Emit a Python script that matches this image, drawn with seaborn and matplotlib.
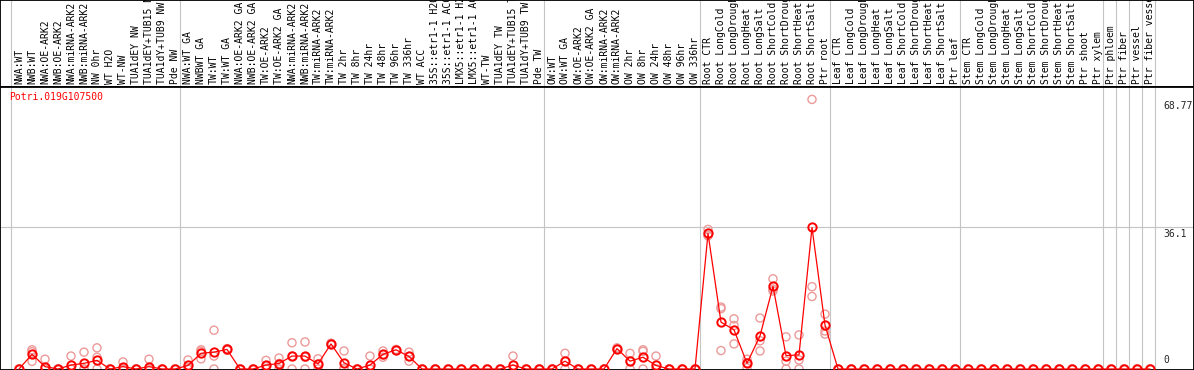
import numpy as np
import pandas as pd
import seaborn as sns
import matplotlib.pyplot as plt

gene = "Potri.019G107500"

samples = [
    # NW
    "NWA:WT", "NWB:WT", "NWA:OE-ARK2", "NWB:OE-ARK2", "NWA:miRNA-ARK2", "NWB:miRNA-ARK2",
    "NW 0hr", "WT H2O", "WT-NW", "TUA1dEY NW", "TUA1dEY+TUB15 NW", "TUA1dY+TUB9 NW", "Pde NW",
    # TW
    "NWA:WT GA", "NWBWT GA", "TW:WT", "TW:WT GA", "NWA:OE-ARK2 GA", "NWB:OE-ARK2 GA",
    "TW:OE-ARK2", "TW:OE-ARK2 GA", "NWA:miRNA-ARK2", "NWB:miRNA-ARK2", "TW:miRNA-ARK2",
    "TW:miRNA-ARK2", "TW 2hr", "TW 8hr", "TW 24hr", "TW 48hr", "TW 96hr", "TW 336hr", "WT ACC",
    "35S::etr1-1 H2O", "35S::etr1-1 ACC", "LMX5::etr1-1 H2O", "LMX5::etr1-1 ACC", "WT-TW",
    "TUA1dEY TW", "TUA1dEY+TUB15 TW", "TUA1dY+TUB9 TW", "Pde TW",
    # OW
    "OW:WT", "OW:WT GA", "OW:OE-ARK2", "OW:OE-ARK2 GA", "OW:miRNA-ARK2", "OW:miRNA-ARK2",
    "OW 2hr", "OW 8hr", "OW 24hr", "OW 48hr", "OW 96hr", "OW 336hr",
    # root
    "Root CTR", "Root LongCold", "Root LongDrought", "Root LongHeat", "Root LongSalt",
    "Root ShortCold", "Root ShortDrought", "Root ShortHeat", "Root ShortSalt", "Ptr root",
    # leaf
    "Leaf CTR", "Leaf LongCold", "Leaf LongDrought", "Leaf LongHeat", "Leaf LongSalt",
    "Leaf ShortCold", "Leaf ShortDrought", "Leaf ShortHeat", "Leaf ShortSalt", "Ptr leaf",
    # stem
    "Stem CTR", "Stem LongCold", "Stem LongDrought", "Stem LongHeat", "Stem LongSalt",
    "Stem ShortCold", "Stem ShortDrought", "Stem ShortHeat", "Stem ShortSalt", "Ptr shoot",
    "Ptr xylem",
    # wood cells
    "Ptr phloem", "Ptr fiber", "Ptr vessel", "Ptr fiber vessel",
]
group_sizes = [13, 28, 12, 10, 10, 11, 1, 1, 1, 1]

means = [
    0, 3.75, 0.6, 0, 1.0, 1.45, 2.2, 0, 0.6, 0, 0.6, 0, 0,
    0.9, 4.0, 4.3, 5.0, 0, 0, 1.0, 1.4, 3.3, 3.3, 1.3, 6.4, 1.6, 0,
    1.0, 3.75, 4.9, 3.2, 0, 0, 0, 0, 0, 0, 0, 1.0, 0, 0,
    0, 2.0, 0, 0, 0, 5.2, 2.0, 3.0, 0.9, 0, 0, 0,
    34.6, 11.95, 10.0, 1.45, 8.45, 21.1, 3.4, 3.6, 36.1, 11.2,
    0, 0, 0, 0, 0, 0, 0, 0, 0, 0,
    0, 0, 0, 0, 0, 0, 0, 0, 0, 0, 0,
    0, 0, 0, 0,
]

reps = [
    [0, 0, 0], [4.9, 4.4, 1.95], [2.5, 0, 0], [0, 0, 0], [3.3, 0, 0], [4.3, 0, 0],
    [5.4, 3.0, 0], [0, 0, 0], [1.8, 0, 0], [0, 0, 0], [2.5, 0, 0], [0, 0, 0], [0, 0, 0],
    [2.3, 0.4, 0], [4.9, 4.5, 2.6], [9.9, 3.3, 0], [5.2, 5.0, 4.8], [0, 0, 0], [0, 0, 0],
    [2.2, 0.8, 0], [2.8, 1.4, 0], [6.7, 3.3, 0], [6.9, 3.0, 0], [2.6, 1.3, 0],
    [6.6, 6.4, 6.2], [4.6, 0.2, 0], [0, 0, 0], [3.3, 0, 0], [4.6, 3.6, 3.0],
    [5.0, 4.9, 4.7], [4.3, 3.2, 2.0], [0, 0, 0], [0, 0, 0], [0, 0, 0], [0, 0, 0],
    [0, 0, 0], [0, 0, 0], [0, 0, 0], [3.3, 0, 0], [0, 0, 0], [0, 0, 0],
    [0, 0, 0], [4.0, 2.0, 0], [0, 0, 0], [0, 0, 0], [0, 0, 0], [5.4, 5.2, 5.0],
    [4.0, 2.0, 0], [4.9, 4.5, 0], [3.3, 0, 0], [0, 0, 0], [0, 0, 0], [0, 0, 0],
    [35.6, 34.0, 34.1], [15.8, 15.4, 4.7], [12.8, 11.1, 6.4], [2.5, 1.6, 0.3],
    [13.0, 7.2, 4.6], [23.0, 20.4, 19.9], [8.2, 2.0, 0], [8.7, 2.3, 0],
    [68.77, 21.0, 18.5], [14.0, 9.7, 8.9],
] + [[0, 0, 0]] * 25

y_marks = [68.77, 36.1, 0]

sns.set_style("white")
plt.rcParams["font.family"] = ["DejaVu Sans Mono", "DejaVu Sans"]

W, H = 1194, 370
head = 87        # height of the label strip, px
step = 13.0      # px between samples
x0 = 19.0        # px position of first sample
ppu = 3.92       # px per expression unit
grey = "#c4c4c4"

fig = plt.figure(figsize=(W / 100, H / 100), dpi=100)
ax_lab = fig.add_axes([0, 1 - head / H, 1, head / H])
ax = fig.add_axes([0, 0, 1, 1 - head / H])

df = pd.DataFrame({"pos": np.arange(len(samples)), "sample": samples, "mean": means})
rep_df = pd.DataFrame([(i, v) for i, r in enumerate(reps) for v in r],
                      columns=["pos", "value"])

xlim = (-x0 / step, (W - x0) / step)
edges = np.cumsum([0] + group_sizes) - 0.6

# group separators
for a in (ax, ax_lab):
    for e in edges:
        a.axvline(e, color=grey, lw=0.8, zorder=0)
ax.axhline(y_marks[1], color=grey, lw=0.8, zorder=0)

sns.scatterplot(data=rep_df, x="pos", y="value", ax=ax, marker="o", s=34,
                color="#ec9a9a", facecolor="none", edgecolor="#ec9a9a",
                linewidth=1.0, zorder=2)
sns.lineplot(data=df, x="pos", y="mean", ax=ax, color="red", lw=0.9,
             marker="o", markersize=6.0, markerfacecolor="none",
             markeredgecolor="red", markeredgewidth=1.4, zorder=3)

ax.set_xlim(*xlim)
ax.set_ylim(-1 / ppu, (H - head - 1) / ppu)
ax.set_xticks([])
ax.set_yticks([])
ax.set_xlabel("")
ax.set_ylabel("")

# sample labels in the top strip (clipped at the top, as in the original)
ax_lab.set_xlim(*xlim)
ax_lab.set_ylim(0, 1)
ax_lab.set_xticks([])
ax_lab.set_yticks([])
for i, s in enumerate(samples):
    ax_lab.text(i, 3 / head, s, rotation=90, ha="center", va="bottom",
                fontsize=7, color="black", clip_on=True)

for a in (ax, ax_lab):
    for sp in a.spines.values():
        sp.set_visible(True)
        sp.set_color("black")
        sp.set_linewidth(1.3)

ax.annotate(gene, xy=(0, 1), xycoords="axes fraction", xytext=(9, -5),
            textcoords="offset pixels", ha="left", va="top", color="red", fontsize=7)

for v in y_marks:
    if v == 0:
        ax.annotate("0", xy=(1163 / W, v), xycoords=ax.get_yaxis_transform(),
                    xytext=(0, 4), textcoords="offset pixels", ha="left", va="bottom",
                    fontsize=7)
    else:
        ax.annotate(f"{v:g}", xy=(1163 / W, v), xycoords=ax.get_yaxis_transform(),
                    xytext=(0, -2), textcoords="offset pixels", ha="left", va="top",
                    fontsize=7)

fig.savefig("out.png", dpi=100)
